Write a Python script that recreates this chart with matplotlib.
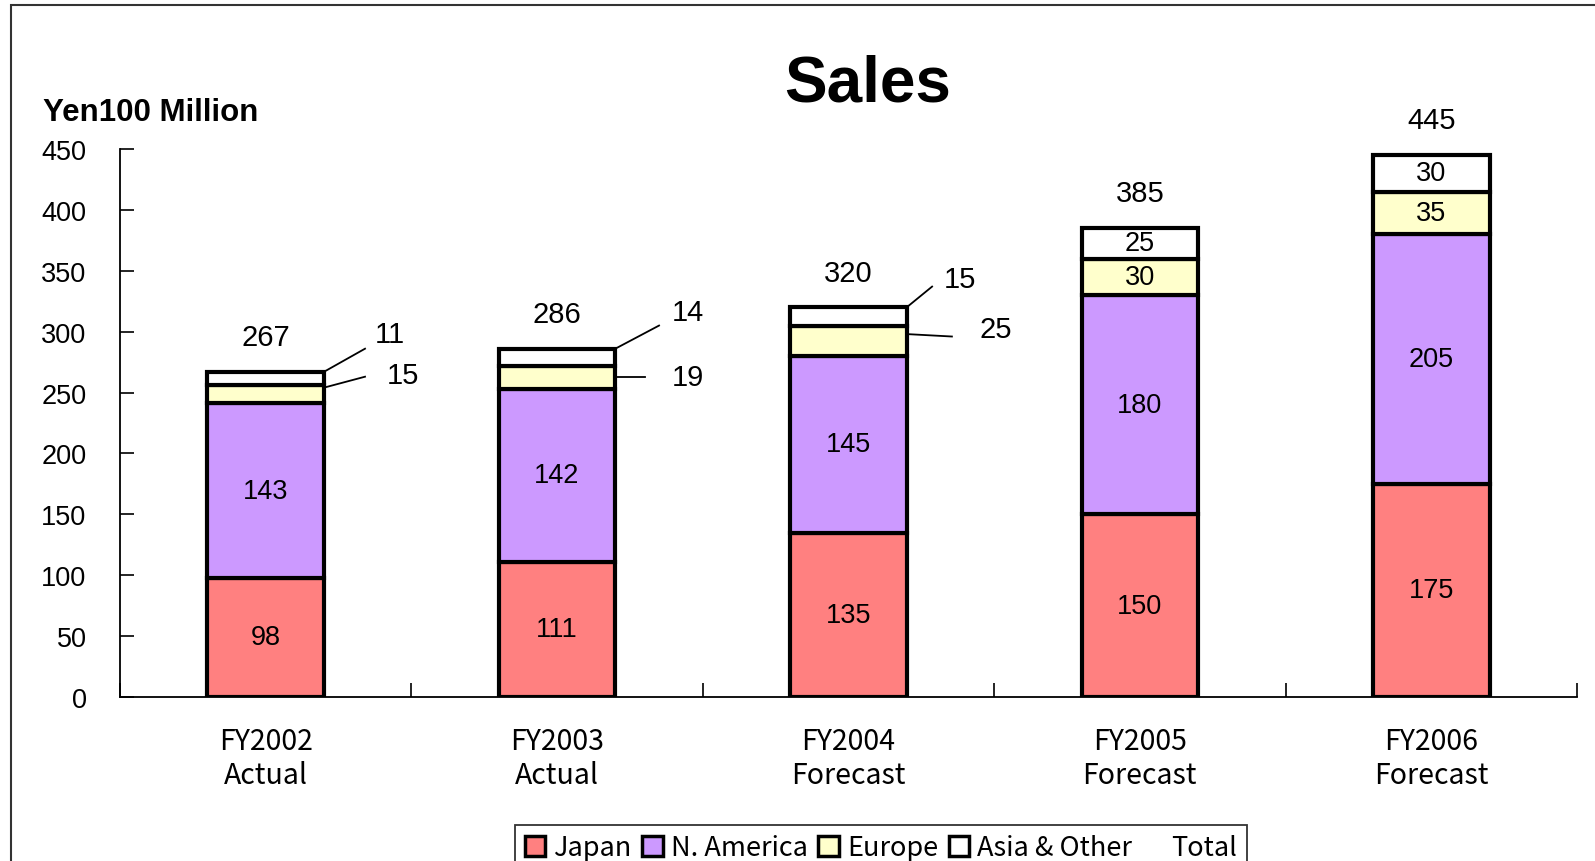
import matplotlib.pyplot as plt
from matplotlib.patches import Rectangle
from matplotlib.lines import Line2D
import numpy as np

# Sales by region, units of Yen 100 million
categories = ["FY2002\nActual", "FY2003\nActual", "FY2004\nForecast",
              "FY2005\nForecast", "FY2006\nForecast"]
japan = [98, 111, 135, 150, 175]
n_america = [143, 142, 145, 180, 205]
europe = [15, 19, 25, 30, 35]
asia_other = [11, 14, 15, 25, 30]

series = [("Japan", japan, "#FF8080"),
          ("N. America", n_america, "#CC99FF"),
          ("Europe", europe, "#FFFFCC"),
          ("Asia & Other", asia_other, "#FFFFFF")]

num_font = "Liberation Sans"
jp_font = ["Noto Sans CJK JP", "DejaVu Sans"]

fig = plt.figure(figsize=(15.95, 8.62), dpi=100)
ax = fig.add_axes([0.0752, 0.1903, 0.9135, 0.6357])

x = np.arange(len(categories))
width = 0.4
bottom = np.zeros(len(categories))
for name, vals, color in series:
    vals = np.array(vals, dtype=float)
    ax.bar(x, vals, width, bottom=bottom, color=color, edgecolor="black",
           linewidth=3, label=name, zorder=3)
    bottom += vals

totals = bottom

# values inside the segments (small segments only when they fit)
cum = np.zeros(len(categories))
for si, (name, vals, color) in enumerate(series):
    for i, v in enumerate(vals):
        if si < 2 or i >= 3:
            ax.text(x[i], cum[i] + v / 2, str(v), ha="center", va="center",
                    fontsize=19.5, family=num_font, zorder=4)
    cum += np.array(vals)

for i, t in enumerate(totals):
    ax.text(x[i], t + 17, str(int(t)), ha="center", va="bottom",
            fontsize=21, family=num_font)

# callouts for thin segments: (bar, series index, text pos, line start, line end)
callouts = [
    (0, 3, (0.427, 298), (0.2, 267), (0.341, 286)),
    (0, 2, (0.471, 264), (0.2, 254), (0.341, 263)),
    (1, 3, (1.449, 316), (1.2, 286), (1.350, 305)),
    (1, 2, (1.449, 263), (1.2, 263), (1.302, 263)),
    (2, 3, (2.383, 343), (2.2, 320), (2.287, 337)),
    (2, 2, (2.506, 302), (2.2, 298), (2.355, 296)),
]
for i, si, tpos, p0, p1 in callouts:
    ax.plot([p0[0], p1[0]], [p0[1], p1[1]], color="black", lw=1.3,
            zorder=5, clip_on=False)
    ax.text(tpos[0], tpos[1], str(series[si][1][i]), ha="center",
            va="center", fontsize=21, family=num_font)

ax.set_xlim(-0.5, 4.5)
ax.set_ylim(0, 450)
ax.set_yticks(np.arange(0, 451, 50))
for lab in ax.get_yticklabels():
    lab.set_family(num_font)
    lab.set_fontsize(19.5)
ax.tick_params(axis="y", direction="in", length=10, width=1.2, pad=24)

ax.set_xticks(x)
ax.set_xticklabels(categories, family=jp_font, fontsize=20.5, linespacing=1.15)
ax.tick_params(axis="x", which="major", length=0, pad=21)
ax.set_xticks(np.arange(-0.5, 4.6, 1), minor=True)
ax.tick_params(axis="x", which="minor", direction="in", length=10, width=1.2)

for s in ["top", "right"]:
    ax.spines[s].set_visible(False)
for s in ["left", "bottom"]:
    ax.spines[s].set_linewidth(1.3)

fig.text(868 / 1595, 1 - 84 / 862, "Sales", ha="center", va="center",
         fontsize=46, fontweight="bold", family=num_font)
fig.text(43 / 1595, 1 - 113 / 862, "Yen100 Million", ha="left", va="center",
         fontsize=22.5, fontweight="bold", family=num_font)

# legend, with an empty entry for the total labels
handles = [Rectangle((0, 0), 1, 1, facecolor=c, edgecolor="black", lw=2.5)
           for _, _, c in series]
handles.append(Line2D([], [], color="none"))
labels = [n for n, _, _ in series] + ["Total"]
leg = fig.legend(handles, labels, loc="upper center",
                 bbox_to_anchor=(881 / 1595, 1 - 826 / 862), ncol=5,
                 frameon=True, fancybox=False, edgecolor="black",
                 prop={"family": jp_font, "size": 19.5},
                 handlelength=0.75, handleheight=0.75, handletextpad=0.3,
                 columnspacing=0.4, borderpad=0.35, borderaxespad=0)
leg.get_frame().set_linewidth(1.3)

# outer frame of the chart area
fig.patches.append(Rectangle((11 / 1595, -0.1), 1.2, 1.1 - 6 / 862,
                             transform=fig.transFigure, fill=False,
                             edgecolor="#333333", lw=1.5))

fig.savefig("out.png", dpi=100)
